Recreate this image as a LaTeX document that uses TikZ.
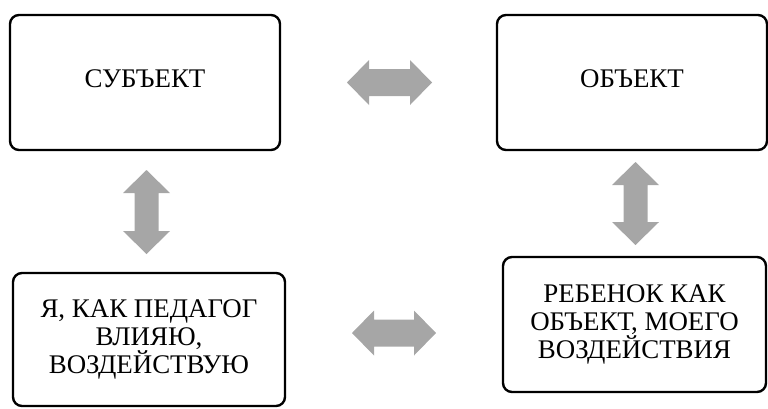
\documentclass[tikz,border=0pt]{standalone}
\usepackage{fontspec}
\setmainfont{Liberation Serif}
\newfontfamily\boxfont{Liberation Serif}
\definecolor{arrowgray}{HTML}{A6A6A6}
\tikzset{
  box/.style={draw=black, line width=2.4bp, rounded corners=9bp, fill=white,
    align=center, font=\boxfont\fontsize{27}{28}\selectfont, inner sep=0pt},
  blockarrow/.style={fill=arrowgray, draw=none}
}
\newcommand\myHArrow[3]{% center x, center y, half length
  \fill[blockarrow] (#1-#3,#2) -- ++(22,-22.5) -- ++(0,9) -- (#1+#3-22,#2-13.5) -- ++(0,-9) -- (#1+#3,#2)
    -- ++(-22,22.5) -- ++(0,-9) -- (#1-#3+22,#2+13.5) -- ++(0,9) -- cycle;}
\newcommand\myVArrow[3]{% center x, center y, half length
  \fill[blockarrow] (#1,#2-#3) -- ++(23.5,23) -- ++(-11.5,0) -- (#1+12,#2+#3-23) -- ++(11.5,0) -- (#1,#2+#3)
    -- ++(-23.5,-23) -- ++(11.5,0) -- (#1-12,#2-#3+23) -- ++(-11.5,0) -- cycle;}
\begin{document}
\begin{tikzpicture}[x=1bp, y=-1bp]
  \useasboundingbox (0,0) rectangle (768,408);
  \node[box, minimum width=270bp, minimum height=135bp] (subj) at (145,82.5) {};
  \node at (145,79) [font=\boxfont\fontsize{27}{28}\selectfont] (subjtext) {СУБЪЕКТ};
  \node[box, minimum width=270bp, minimum height=135bp] (obj) at (632,82.5) {};
  \node at (632,79) [font=\boxfont\fontsize{27}{28}\selectfont] (objtext) {ОБЪЕКТ};
  \node[box, minimum width=272bp, minimum height=133bp] (ped) at (149,339.5) {Я, КАК ПЕДАГОГ\\ВЛИЯЮ,\\ВОЗДЕЙСТВУЮ};
  \node[box, minimum width=263bp, minimum height=135bp] (child) at (634.5,324.5) {РЕБЕНОК КАК\\ОБЪЕКТ, МОЕГО\\ВОЗДЕЙСТВИЯ};
  \myHArrow{389.5}{82.5}{42.5}
  \myHArrow{394}{333}{42}
  \myVArrow{146.5}{212}{42}
  \myVArrow{635.5}{203.5}{41.5}
\end{tikzpicture}
\end{document}
